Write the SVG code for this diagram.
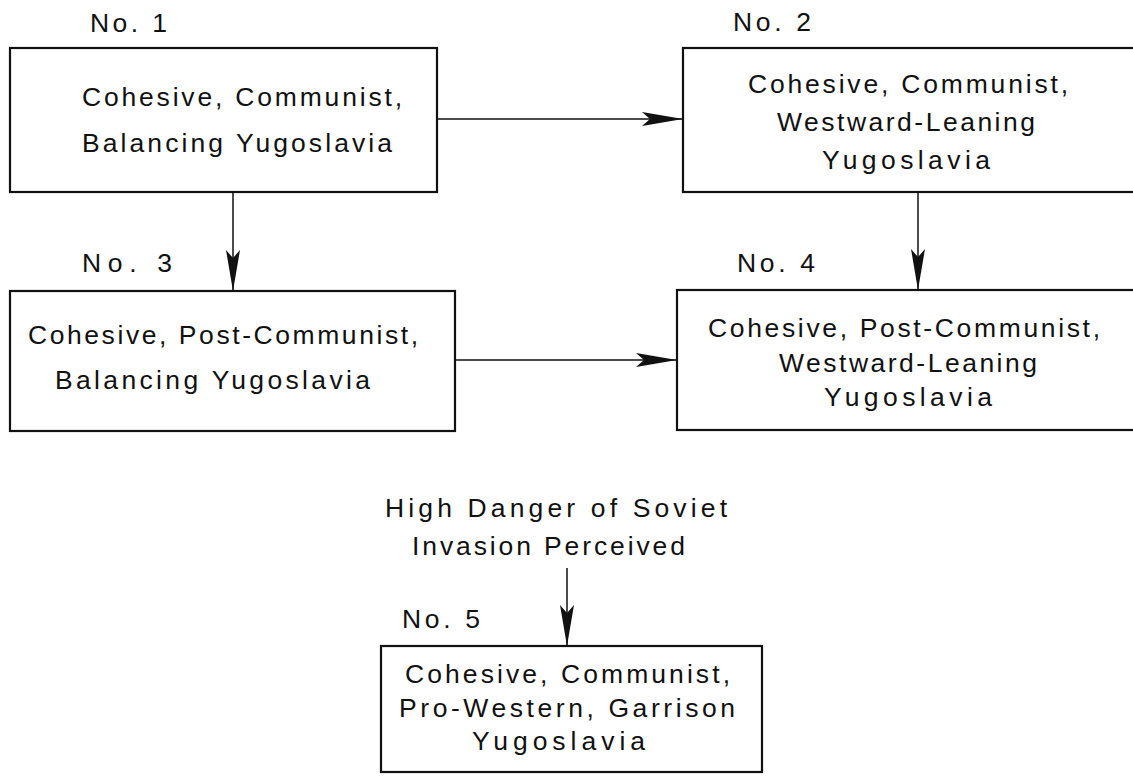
<svg xmlns="http://www.w3.org/2000/svg" width="1133" height="776" viewBox="0 0 1133 776">
<style>
.box{fill:#fff;stroke:#111;stroke-width:2.2}
.t{font-family:"Liberation Sans",Arial,sans-serif;font-size:26.5px;fill:#111}
.c{fill:none;stroke:#111;stroke-width:1.5}
</style>
<defs>
<marker id="ah" markerUnits="userSpaceOnUse" viewBox="-42 -9 44 18" refX="0" refY="0" markerWidth="44" markerHeight="18" orient="auto">
<path d="M0,0 L-41,-7 L-33,0 L-41,7 Z" fill="#111"/>
</marker>
</defs>
<rect width="1133" height="776" fill="#fff"/>
<g id="connectors">
<line class="c" x1="437" y1="119" x2="683" y2="119" marker-end="url(#ah)"/>
<line class="c" x1="233" y1="192" x2="233" y2="291" marker-end="url(#ah)"/>
<line class="c" x1="455" y1="360" x2="677" y2="360" marker-end="url(#ah)"/>
<line class="c" x1="918" y1="192" x2="918" y2="290" marker-end="url(#ah)"/>
<line class="c" x1="567" y1="568" x2="567" y2="646" marker-end="url(#ah)"/>
</g>
<g id="node1">
<text class="t" x="90" y="32" textLength="77" lengthAdjust="spacing">No. 1</text>
<rect class="box" x="10" y="48" width="427" height="144"/>
<text class="t" x="82" y="106" textLength="320" lengthAdjust="spacing">Cohesive, Communist,</text>
<text class="t" x="82" y="152" textLength="310" lengthAdjust="spacing">Balancing Yugoslavia</text>
</g>
<g id="node2">
<text class="t" x="733" y="31" textLength="78" lengthAdjust="spacing">No. 2</text>
<rect class="box" x="683" y="48" width="460" height="144"/>
<text class="t" x="748" y="93" textLength="320" lengthAdjust="spacing">Cohesive, Communist,</text>
<text class="t" x="777" y="131" textLength="258" lengthAdjust="spacing">Westward-Leaning</text>
<text class="t" x="822" y="169" textLength="168" lengthAdjust="spacing">Yugoslavia</text>
</g>
<g id="node3">
<text class="t" x="82" y="272" textLength="90" lengthAdjust="spacing">No. 3</text>
<rect class="box" x="10" y="291" width="445" height="140"/>
<text class="t" x="28" y="344" textLength="390" lengthAdjust="spacing">Cohesive, Post-Communist,</text>
<text class="t" x="55" y="389" textLength="315" lengthAdjust="spacing">Balancing Yugoslavia</text>
</g>
<g id="node4">
<text class="t" x="737" y="272" textLength="78" lengthAdjust="spacing">No. 4</text>
<rect class="box" x="677" y="290" width="470" height="140"/>
<text class="t" x="708" y="337" textLength="392" lengthAdjust="spacing">Cohesive, Post-Communist,</text>
<text class="t" x="779" y="372" textLength="258" lengthAdjust="spacing">Westward-Leaning</text>
<text class="t" x="824" y="406" textLength="168" lengthAdjust="spacing">Yugoslavia</text>
</g>
<g id="condition">
<text class="t" x="385" y="517" textLength="342" lengthAdjust="spacing">High Danger of Soviet</text>
<text class="t" x="412" y="555" textLength="273" lengthAdjust="spacing">Invasion Perceived</text>
</g>
<g id="node5">
<text class="t" x="402" y="628" textLength="78" lengthAdjust="spacing">No. 5</text>
<rect class="box" x="381" y="646" width="381" height="126"/>
<text class="t" x="405" y="683" textLength="325" lengthAdjust="spacing">Cohesive, Communist,</text>
<text class="t" x="399" y="717" textLength="336" lengthAdjust="spacing">Pro-Western, Garrison</text>
<text class="t" x="472" y="750" textLength="173" lengthAdjust="spacing">Yugoslavia</text>
</g>
</svg>
